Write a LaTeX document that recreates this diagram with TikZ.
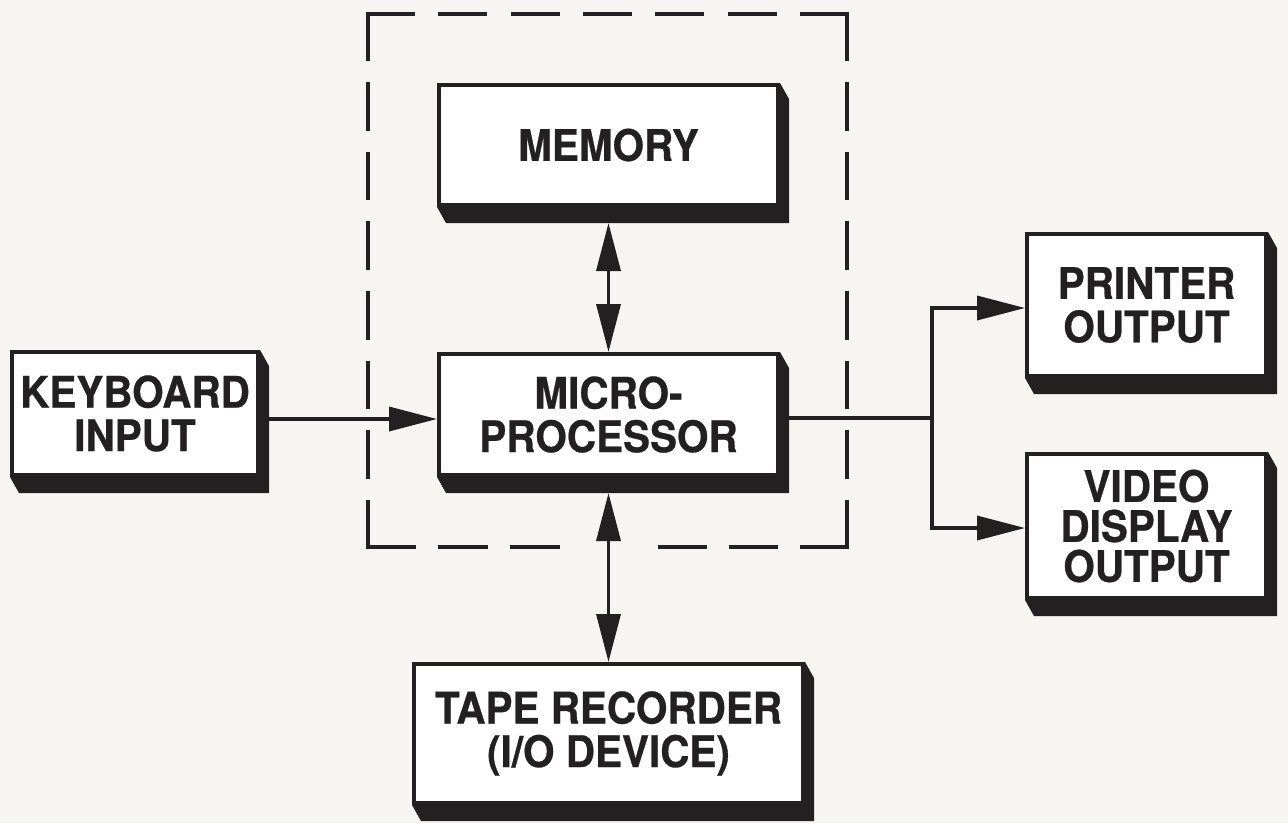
\documentclass[tikz,border=0pt]{standalone}
\usepackage{fontspec}
\newfontfamily\labelfont{TeX Gyre Heros}[FakeStretch=0.93,FakeBold=0.6]
\usetikzlibrary{arrows.meta,calc}

\definecolor{paper}{RGB}{246,245,241}
\definecolor{ink}{RGB}{34,32,32}

\tikzset{
  unitbox/.style={draw=ink, line width=4pt, fill=white,
    align=center, inner sep=0pt, text=ink,
    font=\labelfont\bfseries\fontsize{43.5pt}{43.5pt}\selectfont},
  conn/.style={draw=ink, line width=3.5pt},
  arr/.style={conn, -{Triangle[length=48pt,width=24pt]}},
  biarr/.style={conn, {Triangle[length=48pt,width=24pt]}-{Triangle[length=48pt,width=24pt]}},
  frame/.style={draw=ink, line width=3.8pt, line cap=rect},
}

% solid drop shadow below and to the right of a box
\newcommand{\dropshadow}[1]{%
  \fill[ink] (#1.north east) -- ++(9,16) -- ($(#1.south east)+(9,16)$)
    -- ($(#1.south west)+(9,16)$) -- (#1.south west) -- (#1.south east) -- cycle;}

\begin{document}
\begin{tikzpicture}[x=1pt,y=-1pt]
\useasboundingbox (0,0) rectangle (1288,823);
\fill[paper] (0,0) rectangle (1288,823);

% units
\node[unitbox, minimum width=246pt, minimum height=123pt] (kb)  at (135,413.5)   {KEYBOARD\\INPUT};
\node[unitbox, minimum width=339pt, minimum height=120pt] (mem) at (608.5,145)   {MEMORY};
\node[unitbox, minimum width=339pt, minimum height=121pt] (cpu) at (608.5,414.5) {MICRO-\\PROCESSOR};
\node[unitbox, minimum width=389pt, minimum height=139pt] (tape) at (608.5,733.5) {TAPE RECORDER\\(I/O DEVICE)};
\node[unitbox, minimum width=239pt, minimum height=142pt] (prn) at (1146.5,305)  {PRINTER\\OUTPUT};
\node[unitbox, minimum width=239pt, minimum height=144pt,
      font=\labelfont\bfseries\fontsize{43.5pt}{40pt}\selectfont] (vid) at (1146.5,526) {VIDEO\\DISPLAY\\OUTPUT};

\foreach \b in {kb,mem,cpu,tape,prn,vid} {\dropshadow{\b}}

% dashed boundary of the computer
\coordinate (fTL) at (368,14);
\coordinate (fTR) at (847,14);
\coordinate (fBL) at (368,547);
\coordinate (fBR) at (847,547);
\coordinate (gapL) at (558,547);
\coordinate (gapR) at (660,547);
\draw[frame, dash pattern=on 45pt off 27.33pt] (fTL) -- (fTR);
\draw[frame, dash pattern=on 45pt off 24.71pt] (fTL) -- (fBL);
\draw[frame, dash pattern=on 45pt off 24.71pt] (fTR) -- (fBR);
\draw[frame, dash pattern=on 46pt off 26pt] (fBL) -- (gapL);
\draw[frame, dash pattern=on 45pt off 26pt] (fBR) -- (gapR);

% connectors
\coordinate (kbout) at ($(kb.east)+(9,0)$);
\coordinate (cpuin) at ($(cpu.west)+(0,4.5)$);
\draw[arr] (kbout |- cpuin) -- (cpuin);

\draw[biarr] ($(mem.south)+(0,16)$) -- (cpu.north);
\draw[biarr] ($(cpu.south)+(0,16)$) -- (tape.north);

\coordinate (cpuout) at ($(cpu.east)+(9,3.5)$);
\coordinate (split) at (932,418);
\draw[conn] (cpuout) -- (split);
\draw[arr] (split) |- ($(prn.west)+(0,3)$);
\draw[arr] (split) |- ($(vid.west)+(0,2)$);
\end{tikzpicture}
\end{document}
